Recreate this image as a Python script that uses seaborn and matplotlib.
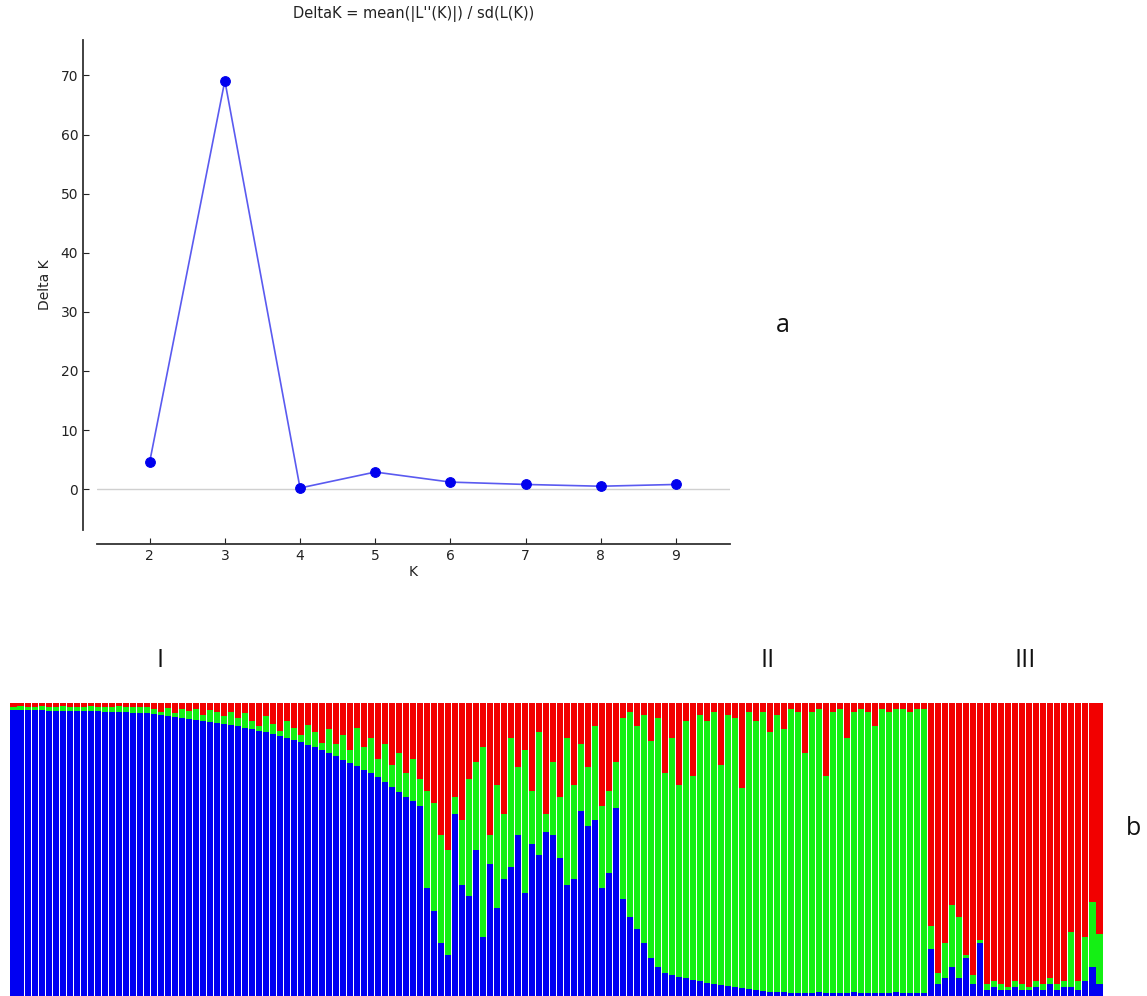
import matplotlib
matplotlib.use("Agg")
import matplotlib.pyplot as plt
import seaborn as sns
import numpy as np
import pandas as pd

# ---------------- data: Delta K (Evanno) ----------------
K_values = [2, 3, 4, 5, 6, 7, 8, 9]
delta_K = [4.6, 69.1, 0.2, 2.9, 1.2, 0.8, 0.5, 0.8]

# ---------------- data: STRUCTURE membership (K = 3) ----------------
# blue = cluster I (bottom), green = cluster II (middle), red = cluster III (top)
blue_I = [0.976, 0.976, 0.975, 0.975, 0.975, 0.974, 0.974, 0.973, 0.973, 0.972,
          0.972, 0.971, 0.971, 0.970, 0.970, 0.969, 0.968, 0.967, 0.966, 0.965,
          0.962, 0.958, 0.954, 0.951, 0.948, 0.945, 0.943, 0.940, 0.936, 0.932,
          0.928, 0.925, 0.921, 0.916, 0.911, 0.905, 0.900, 0.894, 0.888, 0.880,
          0.873, 0.866, 0.858, 0.849, 0.840, 0.830, 0.818, 0.806, 0.795, 0.785,
          0.772, 0.760, 0.748, 0.730, 0.712, 0.695, 0.680, 0.665, 0.650, 0.370]
red_I = [0.012, 0.010, 0.014, 0.012, 0.011, 0.013, 0.012, 0.010, 0.014, 0.013,
         0.012, 0.011, 0.015, 0.012, 0.013, 0.011, 0.014, 0.012, 0.013, 0.015,
         0.020, 0.030, 0.018, 0.035, 0.022, 0.028, 0.020, 0.040, 0.025, 0.030,
         0.045, 0.030, 0.050, 0.035, 0.060, 0.080, 0.045, 0.070, 0.095, 0.060,
         0.085, 0.110, 0.075, 0.100, 0.135, 0.090, 0.140, 0.110, 0.160, 0.085,
         0.150, 0.120, 0.190, 0.140, 0.210, 0.170, 0.240, 0.190, 0.260, 0.300]

blue_mix = [0.29, 0.18, 0.14, 0.62, 0.38, 0.34, 0.50, 0.20, 0.45, 0.30,
            0.40, 0.44, 0.55, 0.35, 0.52, 0.48, 0.56, 0.55, 0.47, 0.38,
            0.40, 0.63, 0.58, 0.60, 0.37, 0.42, 0.64]
red_mix = [0.34, 0.45, 0.50, 0.32, 0.40, 0.26, 0.20, 0.15, 0.45, 0.28,
           0.38, 0.12, 0.22, 0.16, 0.30, 0.10, 0.38, 0.20, 0.32, 0.12,
           0.28, 0.14, 0.22, 0.08, 0.35, 0.30, 0.20]

blue_II = [0.33, 0.27, 0.23, 0.18, 0.13, 0.10, 0.08, 0.07, 0.065, 0.06,
           0.055, 0.05, 0.045, 0.04, 0.038, 0.035, 0.03, 0.027, 0.024, 0.02,
           0.018, 0.015, 0.012, 0.012, 0.011, 0.011, 0.010, 0.010, 0.012, 0.010,
           0.011, 0.010, 0.010, 0.012, 0.010, 0.010, 0.011, 0.010, 0.010, 0.012,
           0.010, 0.010, 0.011, 0.010]
red_II = [0.05, 0.03, 0.08, 0.04, 0.13, 0.05, 0.24, 0.12, 0.28, 0.06,
          0.25, 0.04, 0.06, 0.03, 0.21, 0.04, 0.05, 0.29, 0.03, 0.06,
          0.03, 0.10, 0.04, 0.09, 0.02, 0.03, 0.17, 0.03, 0.02, 0.25,
          0.03, 0.02, 0.12, 0.03, 0.02, 0.03, 0.08, 0.02, 0.03, 0.02,
          0.02, 0.03, 0.02, 0.02]

blue_III = [0.16, 0.04, 0.06, 0.10, 0.06, 0.13, 0.04, 0.18, 0.02, 0.03,
            0.02, 0.02, 0.03, 0.02, 0.02, 0.03, 0.02, 0.04, 0.02, 0.03,
            0.03, 0.02, 0.05, 0.10, 0.04]
green_III = [0.08, 0.04, 0.12, 0.21, 0.21, 0.01, 0.03, 0.01, 0.02, 0.02,
             0.02, 0.01, 0.02, 0.02, 0.01, 0.02, 0.02, 0.02, 0.02, 0.02,
             0.19, 0.03, 0.15, 0.22, 0.17]

group_labels = ["I", "II", "III"]

# ---------------- assemble ----------------
blue = blue_I + blue_mix + blue_II + blue_III
red = red_I + red_mix + red_II + [1 - b - g for b, g in zip(blue_III, green_III)]
blue = np.array(blue)
red = np.array(red)
green_top = 1.0 - red
n = len(blue)
df = pd.DataFrame({"ind": np.arange(n), "blue": blue, "green_top": green_top,
                   "total": np.ones(n)})

C_BLUE = "#0000f2"
C_GREEN = "#14f014"
C_RED = "#f20000"

sns.set_style("white")
plt.rcParams["font.family"] = ["DejaVu Sans"]

fig = plt.figure(figsize=(11.47, 9.96), dpi=100)

# ---------------- top: Delta K ----------------
ax1 = fig.add_axes([0.0846, 0.4679, 0.5519, 0.4920])
ax1.axhline(0, color="#d0d0d0", lw=1.0, zorder=0)
sns.lineplot(x=K_values, y=delta_K, ax=ax1, color="#5a5af0", lw=1.2,
             marker="o", markersize=7, markerfacecolor="#0000ee",
             markeredgecolor="#0000ee")
ax1.set_xlim(1.3, 9.72)
ax1.set_ylim(-6.9, 76)
ax1.set_xticks(K_values)
ax1.set_yticks([0, 10, 20, 30, 40, 50, 60, 70])
ax1.tick_params(axis="both", labelsize=10, colors="#222222", direction="in",
                length=4, width=0.8, left=True, bottom=True)
ax1.set_xlabel("K", fontsize=10, color="#222222", labelpad=2)
ax1.set_ylabel("Delta K", fontsize=10, color="#222222", labelpad=6)
ax1.set_title("DeltaK = mean(|L''(K)|) / sd(L(K))", fontsize=10.5,
              color="#222222", pad=16)
sns.despine(ax=ax1, offset=10)
for s in ("left", "bottom"):
    ax1.spines[s].set_color("#333333")
    ax1.spines[s].set_linewidth(1.3)

fig.text(783 / 1147, 1 - 325 / 996, "a", fontsize=18, ha="center",
         va="center", family="Open Sans", color="#111111")

# ---------------- bottom: STRUCTURE bar plot ----------------
ax2 = fig.add_axes([10 / 1147, 0.0, 1093 / 1147, 1 - 703 / 996])
bw = 0.86
sns.barplot(data=df, x="ind", y="total", color=C_RED, saturation=1,
            width=bw, linewidth=0, ax=ax2, native_scale=True)
sns.barplot(data=df, x="ind", y="green_top", color=C_GREEN, saturation=1,
            width=bw, linewidth=0, ax=ax2, native_scale=True)
sns.barplot(data=df, x="ind", y="blue", color=C_BLUE, saturation=1,
            width=bw, linewidth=0, ax=ax2, native_scale=True)
ax2.set_xlim(-0.5, n - 0.5)
ax2.set_ylim(0, 1)
ax2.axis("off")

label_x = [160, 768, 1025]
for lab, xp in zip(group_labels, label_x):
    fig.text(xp / 1147, 1 - 660 / 996, lab, fontsize=18, ha="center",
             va="center", family="Open Sans", color="#111111")

fig.text(1133 / 1147, 1 - 828 / 996, "b", fontsize=18, ha="center",
         va="center", family="Open Sans", color="#111111")

fig.savefig("out.png", dpi=100, facecolor="white")
